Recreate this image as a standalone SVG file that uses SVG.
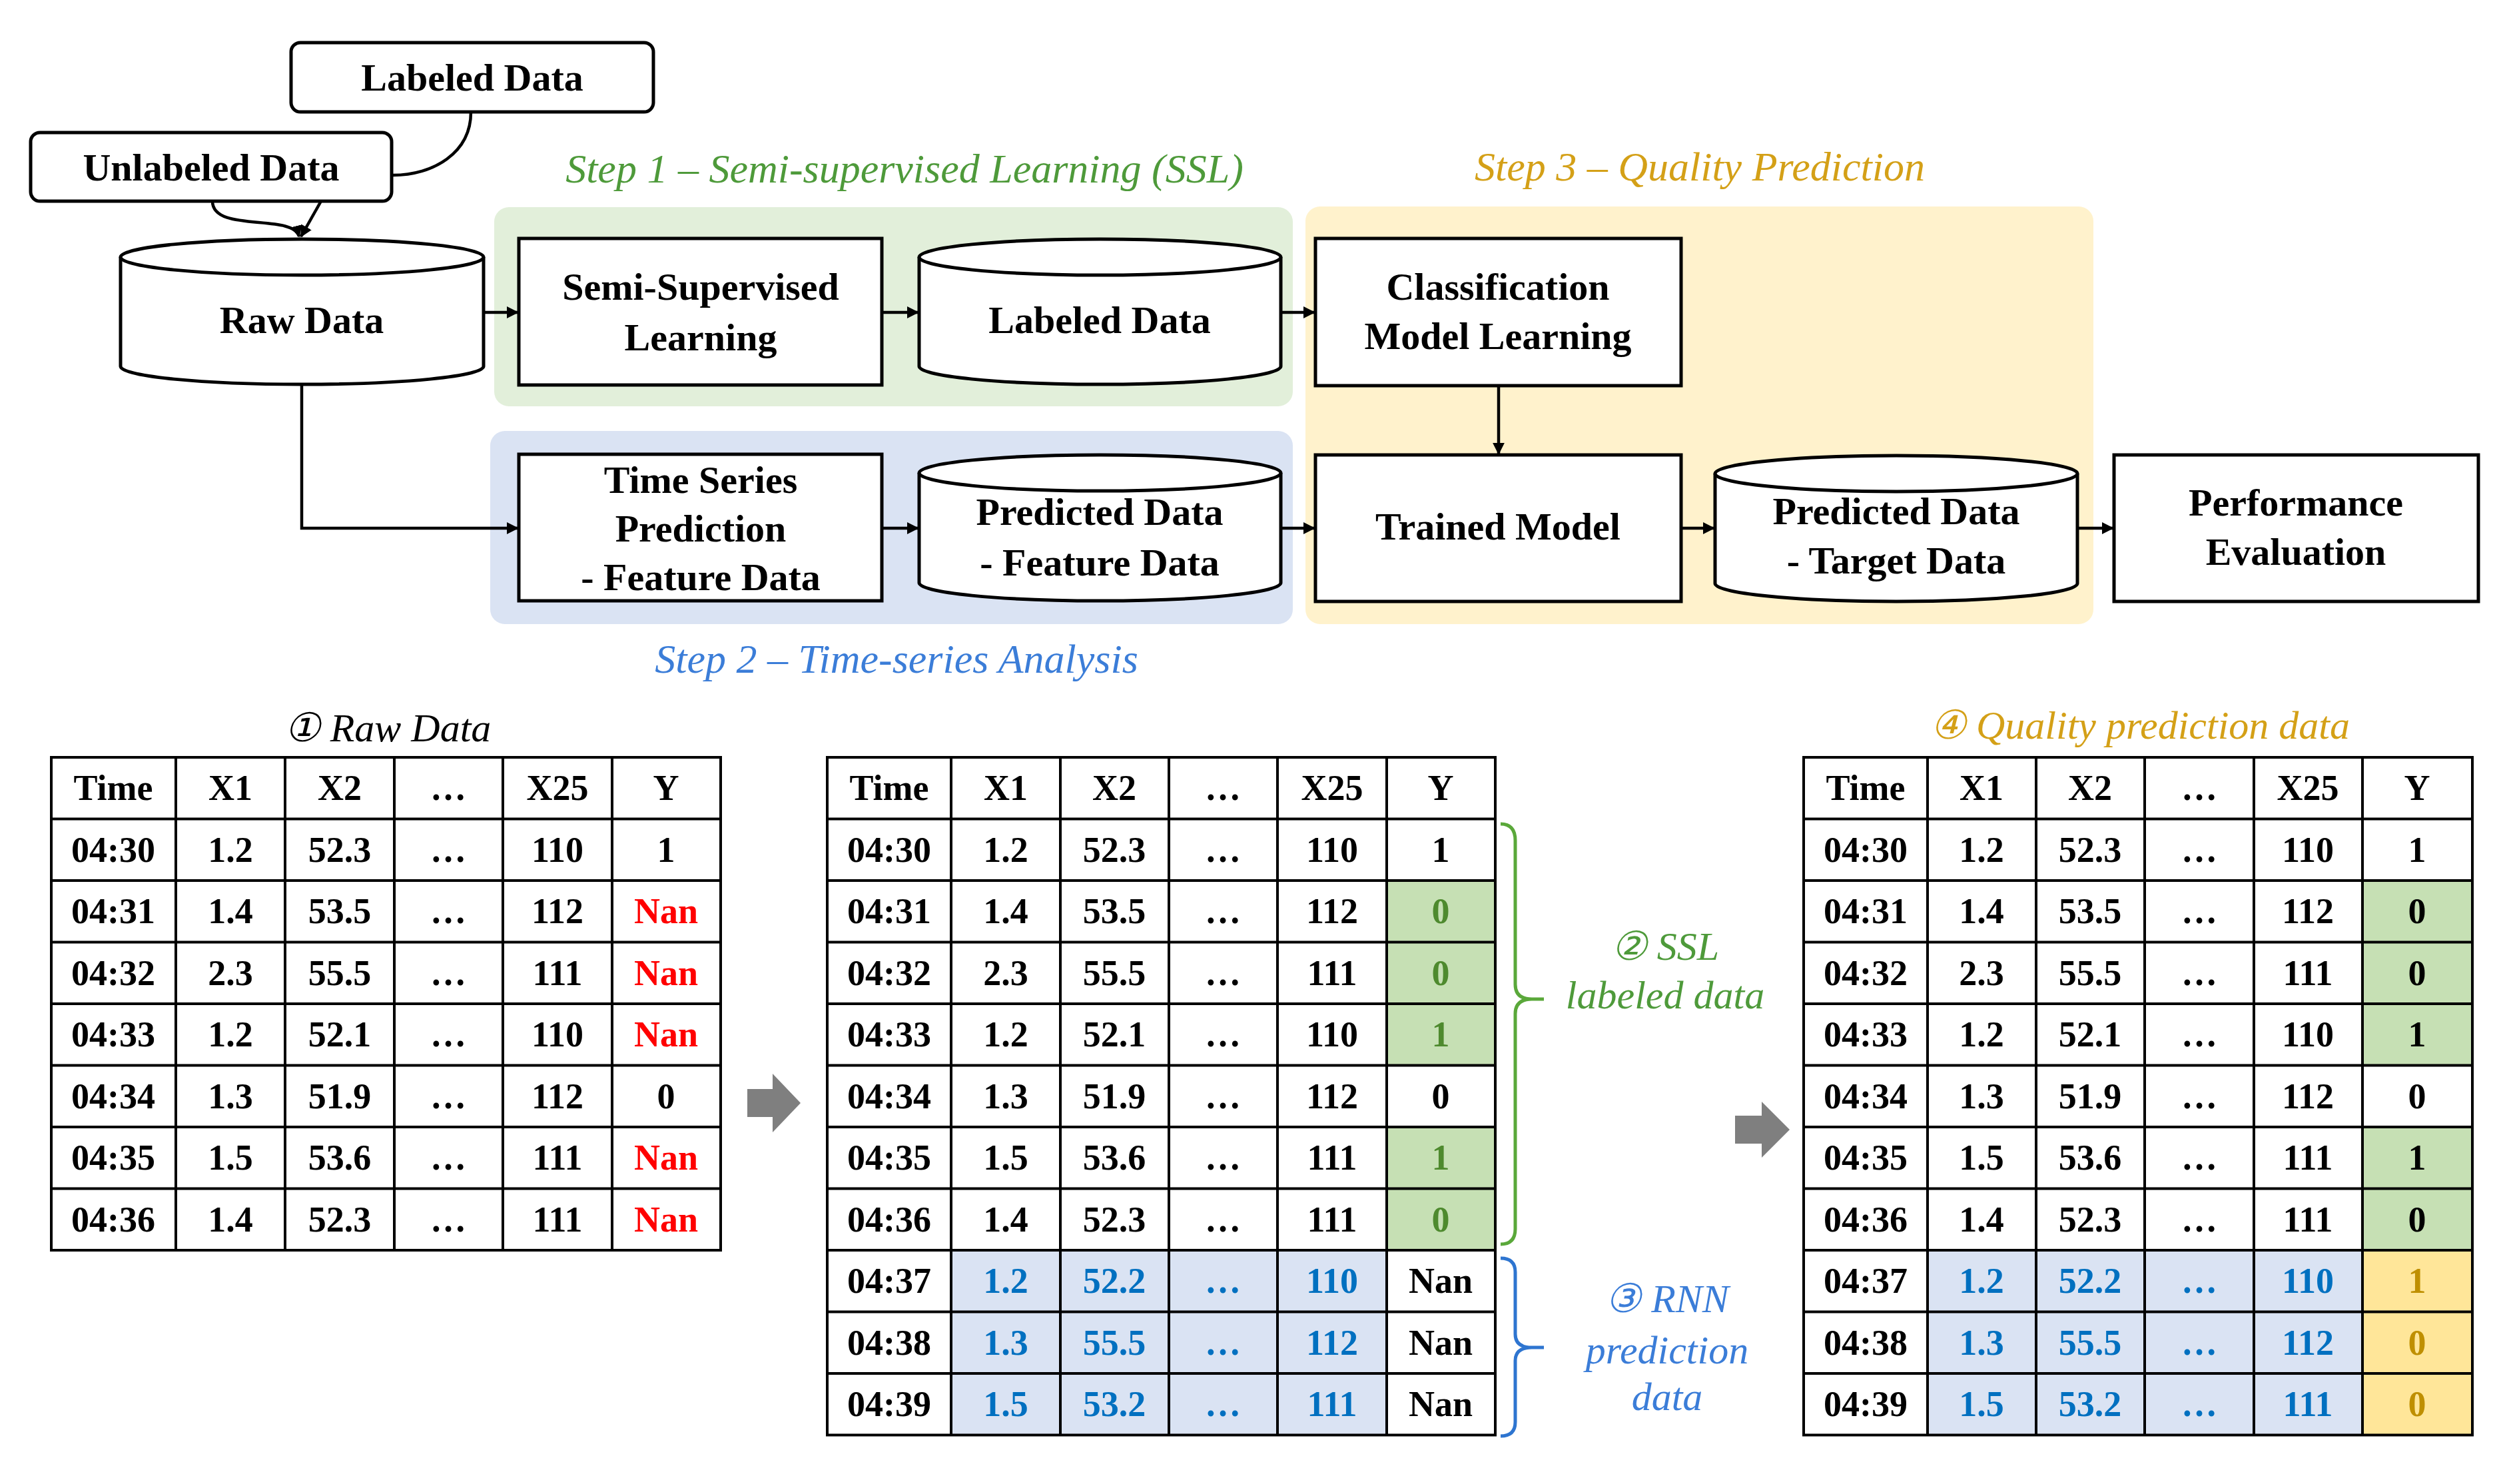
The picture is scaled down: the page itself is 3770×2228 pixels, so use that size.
<svg xmlns="http://www.w3.org/2000/svg" width="3770" height="2228" viewBox="0 0 3770 2228">
<style>
.box{fill:#fff;stroke:#000;stroke-width:5}
.lbl{font-family:"Liberation Serif",serif;font-weight:bold;font-size:58px;text-anchor:middle;fill:#000}
.step{font-family:"Liberation Serif",serif;font-style:italic;font-size:62px;text-anchor:middle}
.conn{fill:none;stroke:#000;stroke-width:4.5}
.t{font-family:"Liberation Serif",serif;font-weight:bold;font-size:54px;text-anchor:middle;fill:#000}
.grid{fill:none;stroke:#000;stroke-width:4}
.blue{fill:#0070c0}.red{fill:#ff0000}.grn{fill:#4e8a2e}.yel{fill:#bf8f00}
.ital{font-family:"Liberation Serif",serif;font-style:italic;font-size:60px;text-anchor:middle}
</style>
<defs>
<marker id="ah" viewBox="0 0 10 10" refX="9" refY="5" markerWidth="4" markerHeight="4" orient="auto" markerUnits="strokeWidth"><path d="M0,0L10,5L0,10z" fill="#000"/></marker>
</defs>
<rect width="3770" height="2228" fill="#fff"/>
<g id="panels">
<rect x="742" y="311" width="1199" height="299" rx="22" fill="#e2efda"/>
<rect x="736" y="647" width="1205" height="290" rx="22" fill="#dae3f3"/>
<rect x="1960" y="310" width="1183" height="627" rx="22" fill="#fff2cc"/>
<text class="step" x="1358" y="274" fill="#4e9a3a">Step 1 – Semi-supervised Learning (SSL)</text>
<text class="step" x="1346" y="1010" fill="#3b7dd8">Step 2 – Time-series Analysis</text>
<text class="step" x="2552" y="271" fill="#d4a017">Step 3 – Quality Prediction</text>
</g>
<g id="connectors">
<path class="conn" d="M707,168 C707,230 650,263 590,263"/>
<path class="conn" d="M319,302 C319,350 440,320 449,355" marker-end="url(#ah)"/>
<path class="conn" d="M482,302 L452,355" marker-end="url(#ah)"/>
<path class="conn" d="M726,469 L777,469" marker-end="url(#ah)"/>
<path class="conn" d="M1324,469 L1378,469" marker-end="url(#ah)"/>
<path class="conn" d="M1923,469 L1973,469" marker-end="url(#ah)"/>
<path class="conn" d="M453,577 L453,793 L777,793" marker-end="url(#ah)"/>
<path class="conn" d="M1324,793 L1378,793" marker-end="url(#ah)"/>
<path class="conn" d="M1923,793 L1973,793" marker-end="url(#ah)"/>
<path class="conn" d="M2524,793 L2573,793" marker-end="url(#ah)"/>
<path class="conn" d="M3119,793 L3172,793" marker-end="url(#ah)"/>
<path class="conn" d="M2250,579 L2250,681" marker-end="url(#ah)"/>
</g>
<g id="labeled-top"><rect class="box" x="437" y="64" width="544" height="104" rx="14"/><text class="lbl" x="709" y="136">Labeled Data</text></g>
<g id="unlabeled"><rect class="box" x="46" y="199" width="542" height="103" rx="14"/><text class="lbl" x="317" y="271">Unlabeled Data</text></g>
<g id="raw"><path class="box" d="M181,386 A272,27 0 0 1 726,386 L726,550 A272,27 0 0 1 181,550 Z"/><path class="box" d="M181,386 A272,27 0 0 0 726,386"/><text class="lbl" x="453" y="500">Raw Data</text></g>
<g id="ssl"><rect class="box" x="779" y="358" width="545" height="220"/><text class="lbl" x="1052" y="450">Semi-Supervised</text><text class="lbl" x="1052" y="526">Learning</text></g>
<g id="labeled-cyl"><path class="box" d="M1380,386 A271,27 0 0 1 1923,386 L1923,550 A271,27 0 0 1 1380,550 Z"/><path class="box" d="M1380,386 A271,27 0 0 0 1923,386"/><text class="lbl" x="1651" y="500">Labeled Data</text></g>
<g id="classif"><rect class="box" x="1975" y="358" width="549" height="221"/><text class="lbl" x="2249" y="450">Classification</text><text class="lbl" x="2249" y="524">Model Learning</text></g>
<g id="tsp"><rect class="box" x="779" y="682" width="545" height="220"/><text class="lbl" x="1052" y="740">Time Series</text><text class="lbl" x="1052" y="813">Prediction</text><text class="lbl" x="1052" y="886">- Feature Data</text></g>
<g id="pred-feature"><path class="box" d="M1380,710 A271,27 0 0 1 1923,710 L1923,875 A271,27 0 0 1 1380,875 Z"/><path class="box" d="M1380,710 A271,27 0 0 0 1923,710"/><text class="lbl" x="1651" y="788">Predicted Data</text><text class="lbl" x="1651" y="864">- Feature Data</text></g>
<g id="trained"><rect class="box" x="1975" y="683" width="549" height="220"/><text class="lbl" x="2249" y="810">Trained Model</text></g>
<g id="pred-target"><path class="box" d="M2575,711 A272,27 0 0 1 3119,711 L3119,876 A272,27 0 0 1 2575,876 Z"/><path class="box" d="M2575,711 A272,27 0 0 0 3119,711"/><text class="lbl" x="2847" y="787">Predicted Data</text><text class="lbl" x="2847" y="861">- Target Data</text></g>
<g id="perf"><rect class="box" x="3174" y="683" width="547" height="220"/><text class="lbl" x="3447" y="774">Performance</text><text class="lbl" x="3447" y="848">Evaluation</text></g>

<g id="table1">
<text class="ital" x="582" y="1113" fill="#000">① Raw Data</text>
<path class="grid" d="M77,1137H1082V1877H77Z M264,1137V1877 M428,1137V1877 M592,1137V1877 M755,1137V1877 M919,1137V1877 M77,1229.5H1082 M77,1322H1082 M77,1414.5H1082 M77,1507H1082 M77,1599.5H1082 M77,1692H1082 M77,1784.5H1082"/>
<g class="t">
<text x="170" y="1201">Time</text><text x="346" y="1201">X1</text><text x="510" y="1201">X2</text><text x="673" y="1201">…</text><text x="837" y="1201">X25</text><text x="1000" y="1201">Y</text>
<text x="170" y="1294">04:30</text><text x="346" y="1294">1.2</text><text x="510" y="1294">52.3</text><text x="673" y="1294">…</text><text x="837" y="1294">110</text><text x="1000" y="1294">1</text>
<text x="170" y="1386">04:31</text><text x="346" y="1386">1.4</text><text x="510" y="1386">53.5</text><text x="673" y="1386">…</text><text x="837" y="1386">112</text><text x="1000" y="1386" class="red">Nan</text>
<text x="170" y="1479">04:32</text><text x="346" y="1479">2.3</text><text x="510" y="1479">55.5</text><text x="673" y="1479">…</text><text x="837" y="1479">111</text><text x="1000" y="1479" class="red">Nan</text>
<text x="170" y="1571">04:33</text><text x="346" y="1571">1.2</text><text x="510" y="1571">52.1</text><text x="673" y="1571">…</text><text x="837" y="1571">110</text><text x="1000" y="1571" class="red">Nan</text>
<text x="170" y="1664">04:34</text><text x="346" y="1664">1.3</text><text x="510" y="1664">51.9</text><text x="673" y="1664">…</text><text x="837" y="1664">112</text><text x="1000" y="1664">0</text>
<text x="170" y="1756">04:35</text><text x="346" y="1756">1.5</text><text x="510" y="1756">53.6</text><text x="673" y="1756">…</text><text x="837" y="1756">111</text><text x="1000" y="1756" class="red">Nan</text>
<text x="170" y="1849">04:36</text><text x="346" y="1849">1.4</text><text x="510" y="1849">52.3</text><text x="673" y="1849">…</text><text x="837" y="1849">111</text><text x="1000" y="1849" class="red">Nan</text>
</g>
</g>

<g id="arrow1"><polygon points="1122,1635 1160,1635 1160,1612 1202,1656 1160,1700 1160,1677 1122,1677" fill="#7f7f7f"/></g>

<g id="table2">
<rect x="2082" y="1322" width="163" height="277.5" fill="#c6e0b4"/>
<rect x="2082" y="1692" width="163" height="185" fill="#c6e0b4"/>
<rect x="1428" y="1877" width="654" height="277.5" fill="#dae3f3"/>
<path class="grid" d="M1242,1137H2245V2154.5H1242Z M1428,1137V2154.5 M1592,1137V2154.5 M1755,1137V2154.5 M1918,1137V2154.5 M2082,1137V2154.5 M1242,1229.5H2245 M1242,1322H2245 M1242,1414.5H2245 M1242,1507H2245 M1242,1599.5H2245 M1242,1692H2245 M1242,1784.5H2245 M1242,1877H2245 M1242,1969.5H2245 M1242,2062H2245"/>
<g class="t">
<text x="1335" y="1201">Time</text><text x="1510" y="1201">X1</text><text x="1673" y="1201">X2</text><text x="1836" y="1201">…</text><text x="2000" y="1201">X25</text><text x="2163" y="1201">Y</text>
<text x="1335" y="1294">04:30</text><text x="1510" y="1294">1.2</text><text x="1673" y="1294">52.3</text><text x="1836" y="1294">…</text><text x="2000" y="1294">110</text><text x="2163" y="1294">1</text>
<text x="1335" y="1386">04:31</text><text x="1510" y="1386">1.4</text><text x="1673" y="1386">53.5</text><text x="1836" y="1386">…</text><text x="2000" y="1386">112</text><text x="2163" y="1386" class="grn">0</text>
<text x="1335" y="1479">04:32</text><text x="1510" y="1479">2.3</text><text x="1673" y="1479">55.5</text><text x="1836" y="1479">…</text><text x="2000" y="1479">111</text><text x="2163" y="1479" class="grn">0</text>
<text x="1335" y="1571">04:33</text><text x="1510" y="1571">1.2</text><text x="1673" y="1571">52.1</text><text x="1836" y="1571">…</text><text x="2000" y="1571">110</text><text x="2163" y="1571" class="grn">1</text>
<text x="1335" y="1664">04:34</text><text x="1510" y="1664">1.3</text><text x="1673" y="1664">51.9</text><text x="1836" y="1664">…</text><text x="2000" y="1664">112</text><text x="2163" y="1664">0</text>
<text x="1335" y="1756">04:35</text><text x="1510" y="1756">1.5</text><text x="1673" y="1756">53.6</text><text x="1836" y="1756">…</text><text x="2000" y="1756">111</text><text x="2163" y="1756" class="grn">1</text>
<text x="1335" y="1849">04:36</text><text x="1510" y="1849">1.4</text><text x="1673" y="1849">52.3</text><text x="1836" y="1849">…</text><text x="2000" y="1849">111</text><text x="2163" y="1849" class="grn">0</text>
<text x="1335" y="1941">04:37</text><text x="1510" y="1941" class="blue">1.2</text><text x="1673" y="1941" class="blue">52.2</text><text x="1836" y="1941" class="blue">…</text><text x="2000" y="1941" class="blue">110</text><text x="2163" y="1941">Nan</text>
<text x="1335" y="2034">04:38</text><text x="1510" y="2034" class="blue">1.3</text><text x="1673" y="2034" class="blue">55.5</text><text x="1836" y="2034" class="blue">…</text><text x="2000" y="2034" class="blue">112</text><text x="2163" y="2034">Nan</text>
<text x="1335" y="2126">04:39</text><text x="1510" y="2126" class="blue">1.5</text><text x="1673" y="2126" class="blue">53.2</text><text x="1836" y="2126" class="blue">…</text><text x="2000" y="2126" class="blue">111</text><text x="2163" y="2126">Nan</text>
</g>
</g>

<g id="ssl-label">
<path d="M2253,1237 Q2275,1237 2275,1262 L2275,1478 Q2275,1500 2300,1500 L2318,1500 M2300,1500 Q2275,1500 2275,1522 L2275,1845 Q2275,1868 2253,1868" fill="none" stroke="#5aa83a" stroke-width="5"/>
<text class="ital" x="2500" y="1441" fill="#4e9a3a">② SSL</text>
<text class="ital" x="2500" y="1514" fill="#4e9a3a">labeled data</text>
</g>
<g id="rnn-label">
<path d="M2253,1889 Q2275,1889 2275,1910 L2275,2003 Q2275,2023 2300,2023 L2318,2023 M2300,2023 Q2275,2023 2275,2043 L2275,2135 Q2275,2156 2253,2156" fill="none" stroke="#2e75d0" stroke-width="5"/>
<text class="ital" x="2503" y="1970" fill="#3b7dd8">③ RNN</text>
<text class="ital" x="2503" y="2047" fill="#3b7dd8">prediction</text>
<text class="ital" x="2503" y="2117" fill="#3b7dd8">data</text>
</g>

<g id="arrow2"><polygon points="2605,1675 2645,1675 2645,1654 2687,1696 2645,1738 2645,1717 2605,1717" fill="#7f7f7f"/></g>

<g id="table3">
<text class="ital" x="3213" y="1109" fill="#d4a017">④ Quality prediction data</text>
<rect x="3547" y="1322" width="165" height="277.5" fill="#c6e0b4"/>
<rect x="3547" y="1692" width="165" height="185" fill="#c6e0b4"/>
<rect x="3547" y="1877" width="165" height="277.5" fill="#ffe699"/>
<rect x="2894" y="1877" width="653" height="277.5" fill="#dae3f3"/>
<path class="grid" d="M2708,1137H3712V2154.5H2708Z M2894,1137V2154.5 M3057,1137V2154.5 M3220,1137V2154.5 M3384,1137V2154.5 M3547,1137V2154.5 M2708,1229.5H3712 M2708,1322H3712 M2708,1414.5H3712 M2708,1507H3712 M2708,1599.5H3712 M2708,1692H3712 M2708,1784.5H3712 M2708,1877H3712 M2708,1969.5H3712 M2708,2062H3712"/>
<g class="t">
<text x="2801" y="1201">Time</text><text x="2975" y="1201">X1</text><text x="3138" y="1201">X2</text><text x="3302" y="1201">…</text><text x="3465" y="1201">X25</text><text x="3629" y="1201">Y</text>
<text x="2801" y="1294">04:30</text><text x="2975" y="1294">1.2</text><text x="3138" y="1294">52.3</text><text x="3302" y="1294">…</text><text x="3465" y="1294">110</text><text x="3629" y="1294">1</text>
<text x="2801" y="1386">04:31</text><text x="2975" y="1386">1.4</text><text x="3138" y="1386">53.5</text><text x="3302" y="1386">…</text><text x="3465" y="1386">112</text><text x="3629" y="1386">0</text>
<text x="2801" y="1479">04:32</text><text x="2975" y="1479">2.3</text><text x="3138" y="1479">55.5</text><text x="3302" y="1479">…</text><text x="3465" y="1479">111</text><text x="3629" y="1479">0</text>
<text x="2801" y="1571">04:33</text><text x="2975" y="1571">1.2</text><text x="3138" y="1571">52.1</text><text x="3302" y="1571">…</text><text x="3465" y="1571">110</text><text x="3629" y="1571">1</text>
<text x="2801" y="1664">04:34</text><text x="2975" y="1664">1.3</text><text x="3138" y="1664">51.9</text><text x="3302" y="1664">…</text><text x="3465" y="1664">112</text><text x="3629" y="1664">0</text>
<text x="2801" y="1756">04:35</text><text x="2975" y="1756">1.5</text><text x="3138" y="1756">53.6</text><text x="3302" y="1756">…</text><text x="3465" y="1756">111</text><text x="3629" y="1756">1</text>
<text x="2801" y="1849">04:36</text><text x="2975" y="1849">1.4</text><text x="3138" y="1849">52.3</text><text x="3302" y="1849">…</text><text x="3465" y="1849">111</text><text x="3629" y="1849">0</text>
<text x="2801" y="1941">04:37</text><text x="2975" y="1941" class="blue">1.2</text><text x="3138" y="1941" class="blue">52.2</text><text x="3302" y="1941" class="blue">…</text><text x="3465" y="1941" class="blue">110</text><text x="3629" y="1941" class="yel">1</text>
<text x="2801" y="2034">04:38</text><text x="2975" y="2034" class="blue">1.3</text><text x="3138" y="2034" class="blue">55.5</text><text x="3302" y="2034" class="blue">…</text><text x="3465" y="2034" class="blue">112</text><text x="3629" y="2034" class="yel">0</text>
<text x="2801" y="2126">04:39</text><text x="2975" y="2126" class="blue">1.5</text><text x="3138" y="2126" class="blue">53.2</text><text x="3302" y="2126" class="blue">…</text><text x="3465" y="2126" class="blue">111</text><text x="3629" y="2126" class="yel">0</text>
</g>
</g>
</svg>
